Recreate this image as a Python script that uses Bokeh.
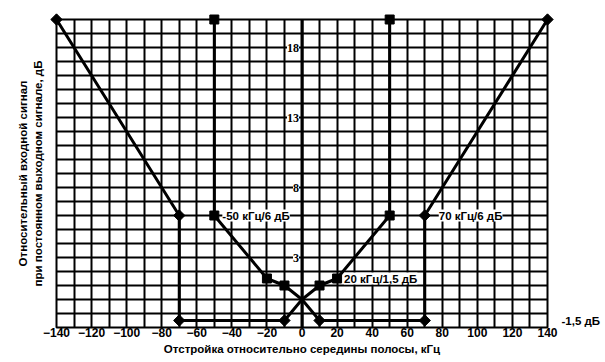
import math
from bokeh.plotting import figure
from bokeh.models import (ColumnDataSource, LabelSet, Label, SingleIntervalTicker,
                          FixedTicker, Range1d, Span, LinearAxis)
from bokeh.embed import file_html
from bokeh.resources import INLINE

# ---- data ----
upper_x = [-50, -50, -20, -10, 0, 10, 20, 50, 50]
upper_y = [20, 6, 1.5, 1, 0, 1, 1.5, 6, 20]
lower_x = [-140, -70, -70, -10, 0, 10, 70, 70, 140]
lower_y = [20, 6, -1.5, -1.5, 0, -1.5, -1.5, 6, 20]
x_ticks = list(range(-140, 141, 20))
y_tick_labels = [3, 8, 13, 18]
ann_texts = ["-50 кГц/6 дБ", "70 кГц/6 дБ", "20 кГц/1,5 дБ"]
ann_x = [-50, 70, 20]
ann_y = [6, 6, 1.5]
ann_offsets = [8, 14, 7]
side_tick = -1.5
side_text = "-1,5 дБ"

FONT = "Liberation Sans"
STYLE = "bold"
TXT = "11.5px"
TICK = "12px"

p = figure(width=603, height=360, output_backend="svg", toolbar_location=None,
           x_range=Range1d(-140, 140), y_range=Range1d(-2, 20),
           min_border_left=56, min_border_right=56, min_border_top=19,
           min_border_bottom=33)
p.background_fill_color = "white"
p.border_fill_color = "white"
p.outline_line_color = "black"
p.outline_line_width = 2

# grids
p.xgrid.ticker = SingleIntervalTicker(interval=10, num_minor_ticks=0)
p.ygrid.ticker = SingleIntervalTicker(interval=1, num_minor_ticks=0)
for g in (p.xgrid, p.ygrid):
    g.grid_line_color = "black"
    g.grid_line_width = 2
    g.grid_line_alpha = 1.0

# x axis
p.xaxis.ticker = FixedTicker(ticks=x_ticks)
p.xaxis.axis_line_color = None
p.xaxis.major_tick_line_color = None
p.xaxis.minor_tick_line_color = None
p.xaxis.major_tick_out = 0
p.xaxis.major_tick_in = 0
p.xaxis.minor_tick_out = 0
p.xaxis.major_label_standoff = 0
p.xaxis.major_label_text_font = FONT
p.xaxis.major_label_text_font_size = TICK
p.xaxis.major_label_text_font_style = STYLE
p.xaxis.major_label_text_color = "black"
p.xaxis.axis_label = "Отстройка относительно середины полосы, кГц"
p.xaxis.axis_label_text_font = FONT
p.xaxis.axis_label_text_font_size = TXT
p.xaxis.axis_label_text_font_style = STYLE
p.xaxis.axis_label_text_color = "black"
p.xaxis.axis_label_standoff = 3

# y axis (title only)
p.yaxis.ticker = FixedTicker(ticks=[])
p.yaxis.axis_line_color = None
p.yaxis.major_tick_line_color = None
p.yaxis.minor_tick_line_color = None
p.yaxis.major_tick_out = 0
p.yaxis.major_tick_in = 0
p.yaxis.minor_tick_out = 0
p.yaxis.major_label_text_font_size = "0px"
p.yaxis.axis_label = "Относительный входной сигнал\nпри постоянном выходном сигнале, дБ"
p.yaxis.axis_label_text_font = FONT
p.yaxis.axis_label_text_font_size = TXT
p.yaxis.axis_label_text_font_style = STYLE
p.yaxis.axis_label_text_color = "black"
p.yaxis.axis_label_standoff = 13

# right axis carrying the single "-1,5 дБ" mark
raxis = LinearAxis(ticker=FixedTicker(ticks=[side_tick]),
                   major_label_overrides={side_tick: side_text})
raxis.axis_line_color = None
raxis.major_tick_line_color = None
raxis.minor_tick_line_color = None
raxis.major_tick_out = 0
raxis.major_tick_in = 0
raxis.minor_tick_out = 0
raxis.major_label_standoff = 14
raxis.major_label_text_font = FONT
raxis.major_label_text_font_size = TXT
raxis.major_label_text_font_style = STYLE
raxis.major_label_text_color = "black"
p.add_layout(raxis, "right")

# thicker zero line
p.add_layout(Span(location=0, dimension="height", line_color="black", line_width=3))

# data lines
p.line(upper_x, upper_y, line_color="black", line_width=3)
p.line(lower_x, lower_y, line_color="black", line_width=3)

um = [(x, y) for x, y in zip(upper_x, upper_y) if x != 0]
lm = [(x, y) for x, y in zip(lower_x, lower_y) if x != 0]
p.scatter([a for a, b in um], [b for a, b in um], marker="square", size=9,
          fill_color="black", line_color="black", level="overlay")
p.scatter([a for a, b in lm], [b for a, b in lm], marker="square", size=8,
          angle=math.pi / 4, fill_color="black", line_color="black", level="overlay")

# y tick labels inside the plot
ysrc = ColumnDataSource(dict(x=[0] * len(y_tick_labels), y=y_tick_labels,
                             t=[str(v) for v in y_tick_labels]))
p.add_layout(LabelSet(x="x", y="y", text="t", source=ysrc, x_offset=-3,
                      text_align="right", text_baseline="middle",
                      text_font=FONT, text_font_size=TICK, text_font_style=STYLE,
                      text_color="black", background_fill_color="white"))

# annotations
for xx, yy, tt, oo in zip(ann_x, ann_y, ann_texts, ann_offsets):
    p.add_layout(Label(x=xx, y=yy, text=tt, x_offset=oo, text_align="left",
                       text_baseline="middle", text_font=FONT, text_font_size=TXT,
                       text_font_style=STYLE, text_color="black",
                       background_fill_color="white"))

open("out.html", "w").write(file_html(p, INLINE))
